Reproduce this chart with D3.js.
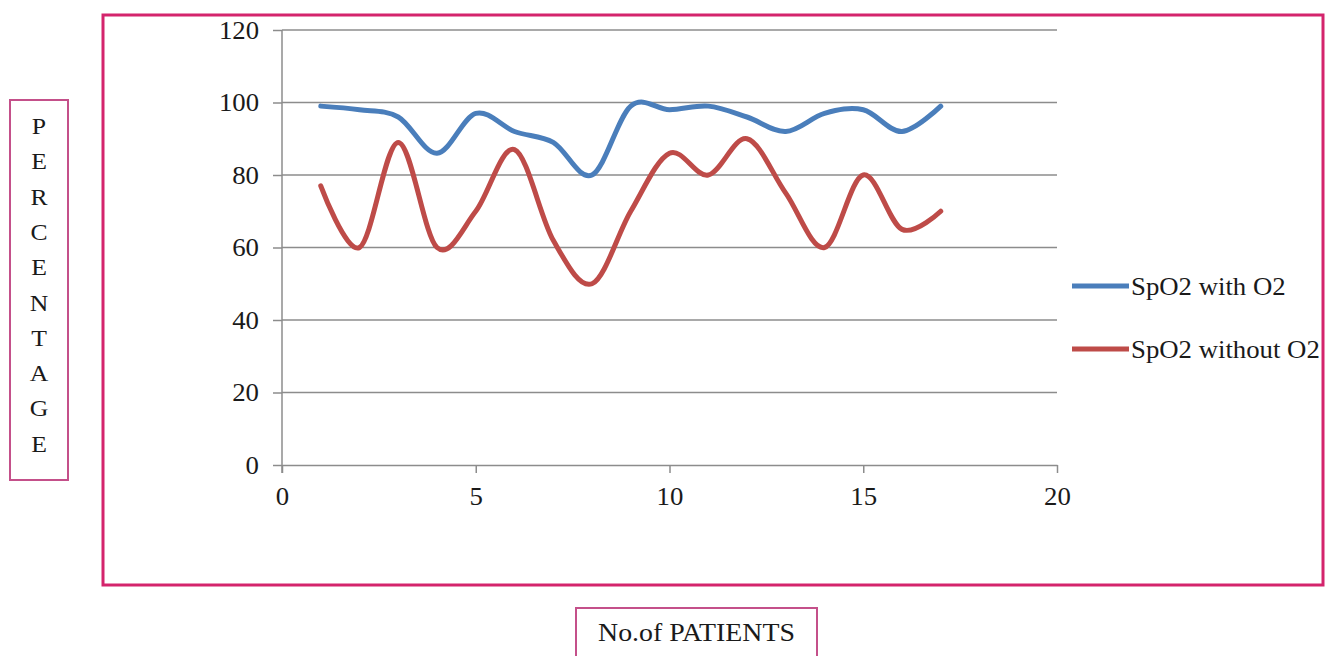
<!DOCTYPE html>
<html>
<head>
<meta charset="utf-8">
<script src="https://cdn.jsdelivr.net/npm/d3@7"></script>
<style>
  html, body { margin: 0; padding: 0; background: #fff; }
  svg { display: block; }
</style>
</head>
<body>
<svg id="chart" width="1325" height="656"></svg>
<script>
// Patient numbers and SpO2 readings (%)
const patients = [1, 2, 3, 4, 5, 6, 7, 8, 9, 10, 11, 12, 13, 14, 15, 16, 17];
const spo2WithO2 = [99, 98, 96, 86, 97, 92, 89, 80, 99, 98, 99, 96, 92, 97, 98, 92, 99];
const spo2WithoutO2 = [77, 60, 89, 60, 70, 87, 62, 50, 70, 86, 80, 90, 75, 60, 80, 65, 70];
const seriesNames = ["SpO2 with O2", "SpO2 without O2"];
const seriesColors = ["#4a7ebb", "#be4b48"];
const xTicks = [0, 5, 10, 15, 20];
const yTicks = [0, 20, 40, 60, 80, 100, 120];
const yTitle = "PERCENTAGE";
const xTitle = "No.of PATIENTS";

const FONT = "Liberation Serif, DejaVu Serif, serif";
const TEXT_COLOR = "#1a1a1a";
const GRID = "#8c8c8c";

const svg = d3.select("#chart");
const frame = "#d4246c";
const smallFrame = "#c4508a";

// Outer chart frame
svg.append("rect")
  .attr("x", 103).attr("y", 15).attr("width", 1220).attr("height", 570)
  .attr("fill", "none").attr("stroke", frame).attr("stroke-width", 3);

const x = d3.scaleLinear().domain([0, 20]).range([282, 1057]);
const y = d3.scaleLinear().domain([0, 120]).range([465, 30]);

// Horizontal gridlines
svg.append("g").selectAll("line")
  .data(yTicks.filter(d => d > 0))
  .join("line")
  .attr("x1", x(0)).attr("x2", x(20))
  .attr("y1", d => y(d)).attr("y2", d => y(d))
  .attr("stroke", GRID).attr("stroke-width", 1.5);

// Y axis
const yAxis = svg.append("g")
  .attr("transform", `translate(${x(0)},0)`)
  .call(d3.axisLeft(y).tickValues(yTicks).tickSize(9).tickPadding(14).tickSizeOuter(0))
  .attr("font-family", FONT).attr("font-size", 25);
yAxis.select(".domain").attr("stroke", GRID).attr("stroke-width", 1.5)
  .attr("d", `M0,${y(120)}V${y(0) + 8}`);
yAxis.selectAll(".tick line").attr("stroke", GRID).attr("stroke-width", 1.5);
yAxis.selectAll(".tick text").attr("fill", TEXT_COLOR);

// X axis
const xAxis = svg.append("g")
  .attr("transform", `translate(0,${y(0)})`)
  .call(d3.axisBottom(x).tickValues(xTicks).tickSize(8).tickPadding(14).tickSizeOuter(0))
  .attr("font-family", FONT).attr("font-size", 25);
xAxis.select(".domain").attr("stroke", GRID).attr("stroke-width", 1.5);
xAxis.selectAll(".tick line").attr("stroke", GRID).attr("stroke-width", 1.5);
xAxis.selectAll(".tick text").attr("fill", TEXT_COLOR);

// Smoothed series lines
const line = d3.line()
  .x((d, i) => x(patients[i]))
  .y(d => y(d))
  .curve(d3.curveCardinal.tension(0));

[spo2WithO2, spo2WithoutO2].forEach((vals, k) => {
  svg.append("path")
    .datum(vals)
    .attr("d", line)
    .attr("fill", "none")
    .attr("stroke", seriesColors[k])
    .attr("stroke-width", 5)
    .attr("stroke-linejoin", "round")
    .attr("stroke-linecap", "round");
});

// Legend
const legend = svg.append("g").attr("font-family", FONT).attr("font-size", 25).attr("fill", TEXT_COLOR);
const legendY = [286, 349];
seriesNames.forEach((name, k) => {
  legend.append("line")
    .attr("x1", 1072).attr("x2", 1129)
    .attr("y1", legendY[k]).attr("y2", legendY[k])
    .attr("stroke", seriesColors[k]).attr("stroke-width", 5);
  legend.append("text")
    .attr("x", 1131).attr("y", legendY[k] + 9)
    .text(name);
});

// Vertical y-axis title box
svg.append("rect")
  .attr("x", 10).attr("y", 100).attr("width", 58).attr("height", 380)
  .attr("fill", "none").attr("stroke", smallFrame).attr("stroke-width", 2);
svg.append("g").attr("font-family", FONT).attr("font-size", 24).attr("fill", TEXT_COLOR)
  .selectAll("text")
  .data(yTitle.split(""))
  .join("text")
  .attr("x", 39)
  .attr("y", (d, i) => 134 + i * 35.3)
  .attr("text-anchor", "middle")
  .text(d => d);

// X-axis title box
svg.append("rect")
  .attr("x", 576).attr("y", 608).attr("width", 241).attr("height", 60)
  .attr("fill", "none").attr("stroke", smallFrame).attr("stroke-width", 2);
svg.append("text")
  .attr("x", 696.5).attr("y", 641)
  .attr("text-anchor", "middle")
  .attr("font-family", FONT).attr("font-size", 26).attr("fill", TEXT_COLOR)
  .text(xTitle);

// Slightly widen every label, as the chart's typeface runs a little wide
svg.selectAll("text").each(function () {
  const w = this.getComputedTextLength();
  if (w > 0) {
    this.setAttribute("textLength", (w * 1.07).toFixed(1));
    this.setAttribute("lengthAdjust", "spacingAndGlyphs");
  }
});
</script>
</body>
</html>
